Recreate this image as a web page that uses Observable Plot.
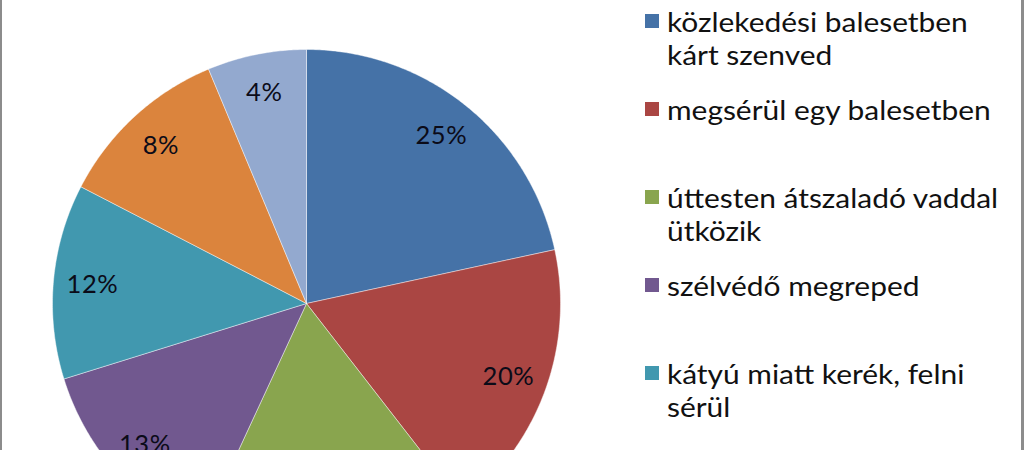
<!DOCTYPE html>
<html>
<head>
<meta charset="utf-8">
<script src="https://cdn.jsdelivr.net/npm/d3@7"></script>
<script src="https://cdn.jsdelivr.net/npm/@observablehq/plot@0.6"></script>
<style>
  html, body { margin: 0; padding: 0; background: #fff; overflow: hidden; }
  #wrap { position: relative; width: 1024px; height: 450px; overflow: hidden; background: #fff; }
  #frame { position: absolute; left: 0; top: -10px; width: 1019px; height: 470px;
           border-left: 2px solid #8c8c8c; border-right: 3px solid #8c8c8c; pointer-events: none; }
  #chart { position: absolute; left: 0; top: 0; }
  #chart text { letter-spacing: 0.6px; }
  #legend { position: absolute; left: 645px; top: 0; width: 370px;
            font-family: Lato, "Open Sans", sans-serif; font-size: 26px; color: #111; }
  .item { position: absolute; left: 0; display: flex; align-items: flex-start; }
  .sw { width: 14px; height: 14px; margin-top: 8px; margin-right: 8px; flex: none; }
  .txt { width: 293px; line-height: 33px; transform: scaleX(1.15); transform-origin: 0 0; }
</style>
</head>
<body>
<div id="wrap">
  <div id="chart"></div>
  <div id="legend"></div>
  <div id="frame"></div>
</div>
<script>
// ---- data ----
const categories = [
  "közlekedési balesetben kárt szenved",
  "megsérül egy balesetben",
  "úttesten átszaladó vaddal ütközik",
  "szélvédő megreped",
  "kátyú miatt kerék, felni sérül",
  "betörnek az autóba",
  "egyéb"
];
// slice shares as drawn in the picture (%)
const values = [21.6, 17.9, 17.4, 13.3, 12.4, 11.1, 6.3];
// data labels as printed on the slices
const labels = ["25%", "20%", "18%", "13%", "12%", "8%", "4%"];
const colors = ["#4572A7", "#AA4643", "#89A54E", "#71588F", "#4198AF", "#DB843D", "#93A9CF"];

// ---- build pie geometry ----
const table = categories.map((c, i) => ({cat: c, value: values[i], label: labels[i]}));
const arcs = d3.pie().sort(null).value(d => d.value)(table);

const pts = [];
arcs.forEach(a => {
  const cat = a.data.cat;
  pts.push({cat, x: 0, y: 0});
  const n = Math.max(2, Math.ceil((a.endAngle - a.startAngle) / (Math.PI / 360)));
  for (let k = 0; k <= n; k++) {
    const t = a.startAngle + (a.endAngle - a.startAngle) * k / n;
    pts.push({cat, x: Math.sin(t), y: Math.cos(t)});
  }
  pts.push({cat, x: 0, y: 0});
});

const labelR = 0.846;
const labelPts = arcs.map(a => {
  const m = (a.startAngle + a.endAngle) / 2;
  return {cat: a.data.cat, label: a.data.label, x: labelR * Math.sin(m), y: labelR * Math.cos(m)};
});

const cx = 306, cy = 303, R = 254;

const plot = Plot.plot({
  width: 1024,
  height: 450,
  margin: 0,
  x: {domain: [-1, 1], range: [cx - R, cx + R], axis: null},
  y: {domain: [-1, 1], range: [cy + R, cy - R], axis: null},
  color: {domain: categories, range: colors},
  marks: [
    Plot.line(pts, {x: "x", y: "y", z: "cat", fill: "cat", stroke: "#ffffff", strokeWidth: 0.8, strokeOpacity: 0.55, curve: "linear"}),
    Plot.text(labelPts, {x: "x", y: "y", text: "label", fill: "#0b0b18", fontSize: 25.5,
      fontFamily: "Lato, 'Open Sans', sans-serif", textAnchor: "middle"})
  ]
});
document.getElementById("chart").appendChild(plot);

// ---- legend ----
const legend = document.getElementById("legend");
const slot = 88, firstTop = 5.5;
categories.forEach((c, i) => {
  const it = document.createElement("div");
  it.className = "item";
  it.style.top = (firstTop + i * slot) + "px";
  const sw = document.createElement("div");
  sw.className = "sw";
  sw.style.background = colors[i];
  const tx = document.createElement("div");
  tx.className = "txt";
  tx.textContent = c;
  it.appendChild(sw);
  it.appendChild(tx);
  legend.appendChild(it);
});
</script>
</body>
</html>
